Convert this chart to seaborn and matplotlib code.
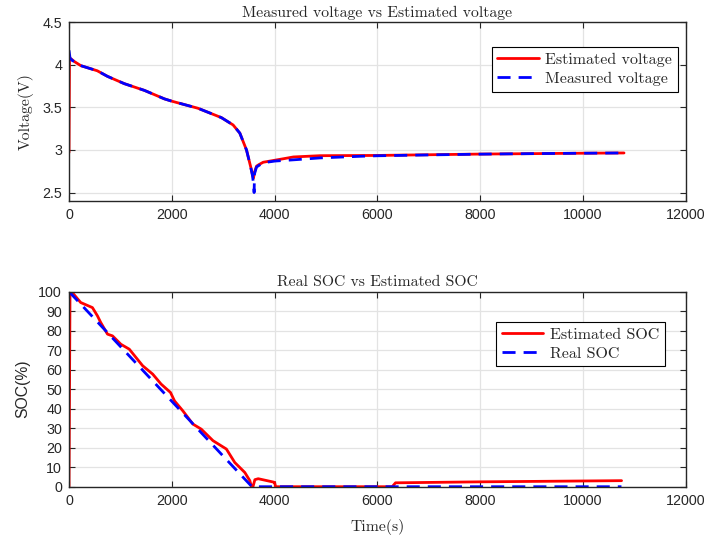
import matplotlib
matplotlib.use("Agg")
import matplotlib.pyplot as plt
import seaborn as sns
import numpy as np
from matplotlib.ticker import FormatStrFormatter

# ---------------- data ----------------
t_est_v = [0, 10, 40, 100, 230, 550, 750, 1075, 1466, 1857, 2000, 2509, 2965,
           3193, 3324, 3454, 3532, 3570, 3590, 3610, 3649, 3700, 3779, 4009,
           4200, 4366, 4888, 5670, 6000, 7000, 8000, 9000, 10000, 10800]
v_est = [2.97, 4.08, 4.07, 4.04, 3.99, 3.93, 3.864, 3.779, 3.70, 3.60, 3.573,
         3.49, 3.38, 3.294, 3.198, 3.00, 2.81, 2.71, 2.67, 2.74, 2.81, 2.83,
         2.856, 2.88, 2.90, 2.918, 2.933, 2.935, 2.936, 2.944, 2.952, 2.957,
         2.962, 2.965]

t_meas_v = [0, 20, 65, 100, 230, 550, 750, 1075, 1466, 1857, 2000, 2509, 2965,
            3193, 3324, 3454, 3532, 3570, 3595, 3602, 3610, 3649, 3700, 3779,
            4009, 4432, 4888, 5670, 6000, 7000, 8000, 9000, 10000, 10800]
v_meas = [4.17, 4.08, 4.05, 4.04, 3.99, 3.93, 3.864, 3.779, 3.70, 3.60, 3.573,
          3.49, 3.38, 3.294, 3.198, 3.00, 2.81, 2.70, 2.58, 2.50, 2.72, 2.80,
          2.82, 2.85, 2.87, 2.887, 2.907, 2.926, 2.932, 2.942, 2.951, 2.957,
          2.962, 2.965]

t_est_soc = [0, 20, 65, 228, 456, 553, 619, 749, 847, 1010, 1173, 1433, 1629,
             1792, 1975, 2053, 2215, 2411, 2574, 2802, 3063, 3226, 3421, 3519,
             3551, 3580, 3617, 3682, 3975, 4000, 4020, 6289, 6354, 8000, 10752]
soc_est = [0, 99, 99.5, 94.4, 91.8, 87.6, 84.1, 78.2, 77.3, 73.0, 70.5, 62.0,
           57.7, 52.6, 48.3, 44.0, 38.9, 32.1, 29.5, 23.6, 19.3, 12.4, 7.3, 3.1,
           0, 0, 3.6, 4.1, 2.4, 2.2, 0, 0, 2.0, 2.5, 3.1]

t_real_soc = [0, 1000, 2000, 3000, 3560, 5000, 8000, 10750]
soc_real = [100, 71.9, 43.8, 15.7, 0, 0, 0, 0]

x_ticks = [0, 2000, 4000, 6000, 8000, 10000, 12000]
v_ticks = [2.5, 3, 3.5, 4, 4.5]
soc_ticks = [0, 10, 20, 30, 40, 50, 60, 70, 80, 90, 100]

# ---------------- style ----------------
sns.set_style("whitegrid")
plt.rcParams['font.family'] = ['Liberation Sans', 'DejaVu Sans']
plt.rcParams['axes.unicode_minus'] = False

SERIF = ['cmr10', 'DejaVu Serif']
FRAME = '#262626'

fig = plt.figure(figsize=(7.04, 5.42), dpi=100)
ax1 = fig.add_axes([0.098, 0.629, 0.876, 0.330])
ax2 = fig.add_axes([0.098, 0.102, 0.876, 0.360])

DASH = (4.7, 2.9)

sns.lineplot(x=t_est_v, y=v_est, ax=ax1, color=(1, 0, 0), lw=2,
             estimator=None, sort=False, label='Estimated voltage')
sns.lineplot(x=t_meas_v, y=v_meas, ax=ax1, color=(0, 0, 1), lw=2,
             estimator=None, sort=False, label='Measured voltage')
ax1.lines[-1].set_dashes(DASH)

sns.lineplot(x=t_est_soc, y=soc_est, ax=ax2, color=(1, 0, 0), lw=2,
             estimator=None, sort=False, label='Estimated SOC')
sns.lineplot(x=t_real_soc, y=soc_real, ax=ax2, color=(0, 0, 1), lw=2,
             estimator=None, sort=False, label='Real SOC')
ax2.lines[-1].set_dashes(DASH)

for ax in (ax1, ax2):
    ax.set_xlim(0, 12000)
    ax.set_xticks(x_ticks)
    ax.grid(True, color='#e3e3e3', lw=0.9)
    ax.set_axisbelow(True)
    for s in ax.spines.values():
        s.set_color(FRAME)
        s.set_linewidth(1.0)
    ax.tick_params(direction='in', length=4, width=0.8, color=FRAME,
                   labelsize=10.3, labelcolor=FRAME, top=True, right=True,
                   bottom=True, left=True, pad=5)

ax1.set_ylim(2.4, 4.5)
ax1.set_yticks(v_ticks)
ax1.yaxis.set_major_formatter(FormatStrFormatter('%g'))
ax2.set_ylim(0, 100)
ax2.set_yticks(soc_ticks)

ax1.set_title('Measured voltage vs Estimated voltage', family=SERIF,
              fontsize=11.3, pad=4)
ax2.set_title('Real SOC vs Estimated SOC', family=SERIF, fontsize=11.3, pad=4)
ax1.set_ylabel('Voltage(V)', family=SERIF, fontsize=11.3, labelpad=6)
ax2.set_ylabel('SOC(%)', fontsize=11.3, labelpad=6, color=FRAME)
ax2.set_xlabel('Time(s)', family=SERIF, fontsize=11.3, labelpad=8)
ax1.set_xlabel('')

for ax, anchor in ((ax1, (0.987, 0.860)), (ax2, (0.966, 0.845))):
    leg = ax.legend(loc='upper right', bbox_to_anchor=anchor, borderaxespad=0,
                    prop={'family': SERIF, 'size': 11.5}, frameon=True,
                    fancybox=False, handlelength=2.6, handletextpad=0.4,
                    borderpad=0.35, labelspacing=0.3)
    fr = leg.get_frame()
    fr.set_edgecolor('black')
    fr.set_linewidth(0.8)
    fr.set_alpha(1)
    for h in leg.get_lines():
        h.set_linewidth(2)
    leg.get_lines()[1].set_dashes(DASH)

fig.savefig('out.png', dpi=100)
